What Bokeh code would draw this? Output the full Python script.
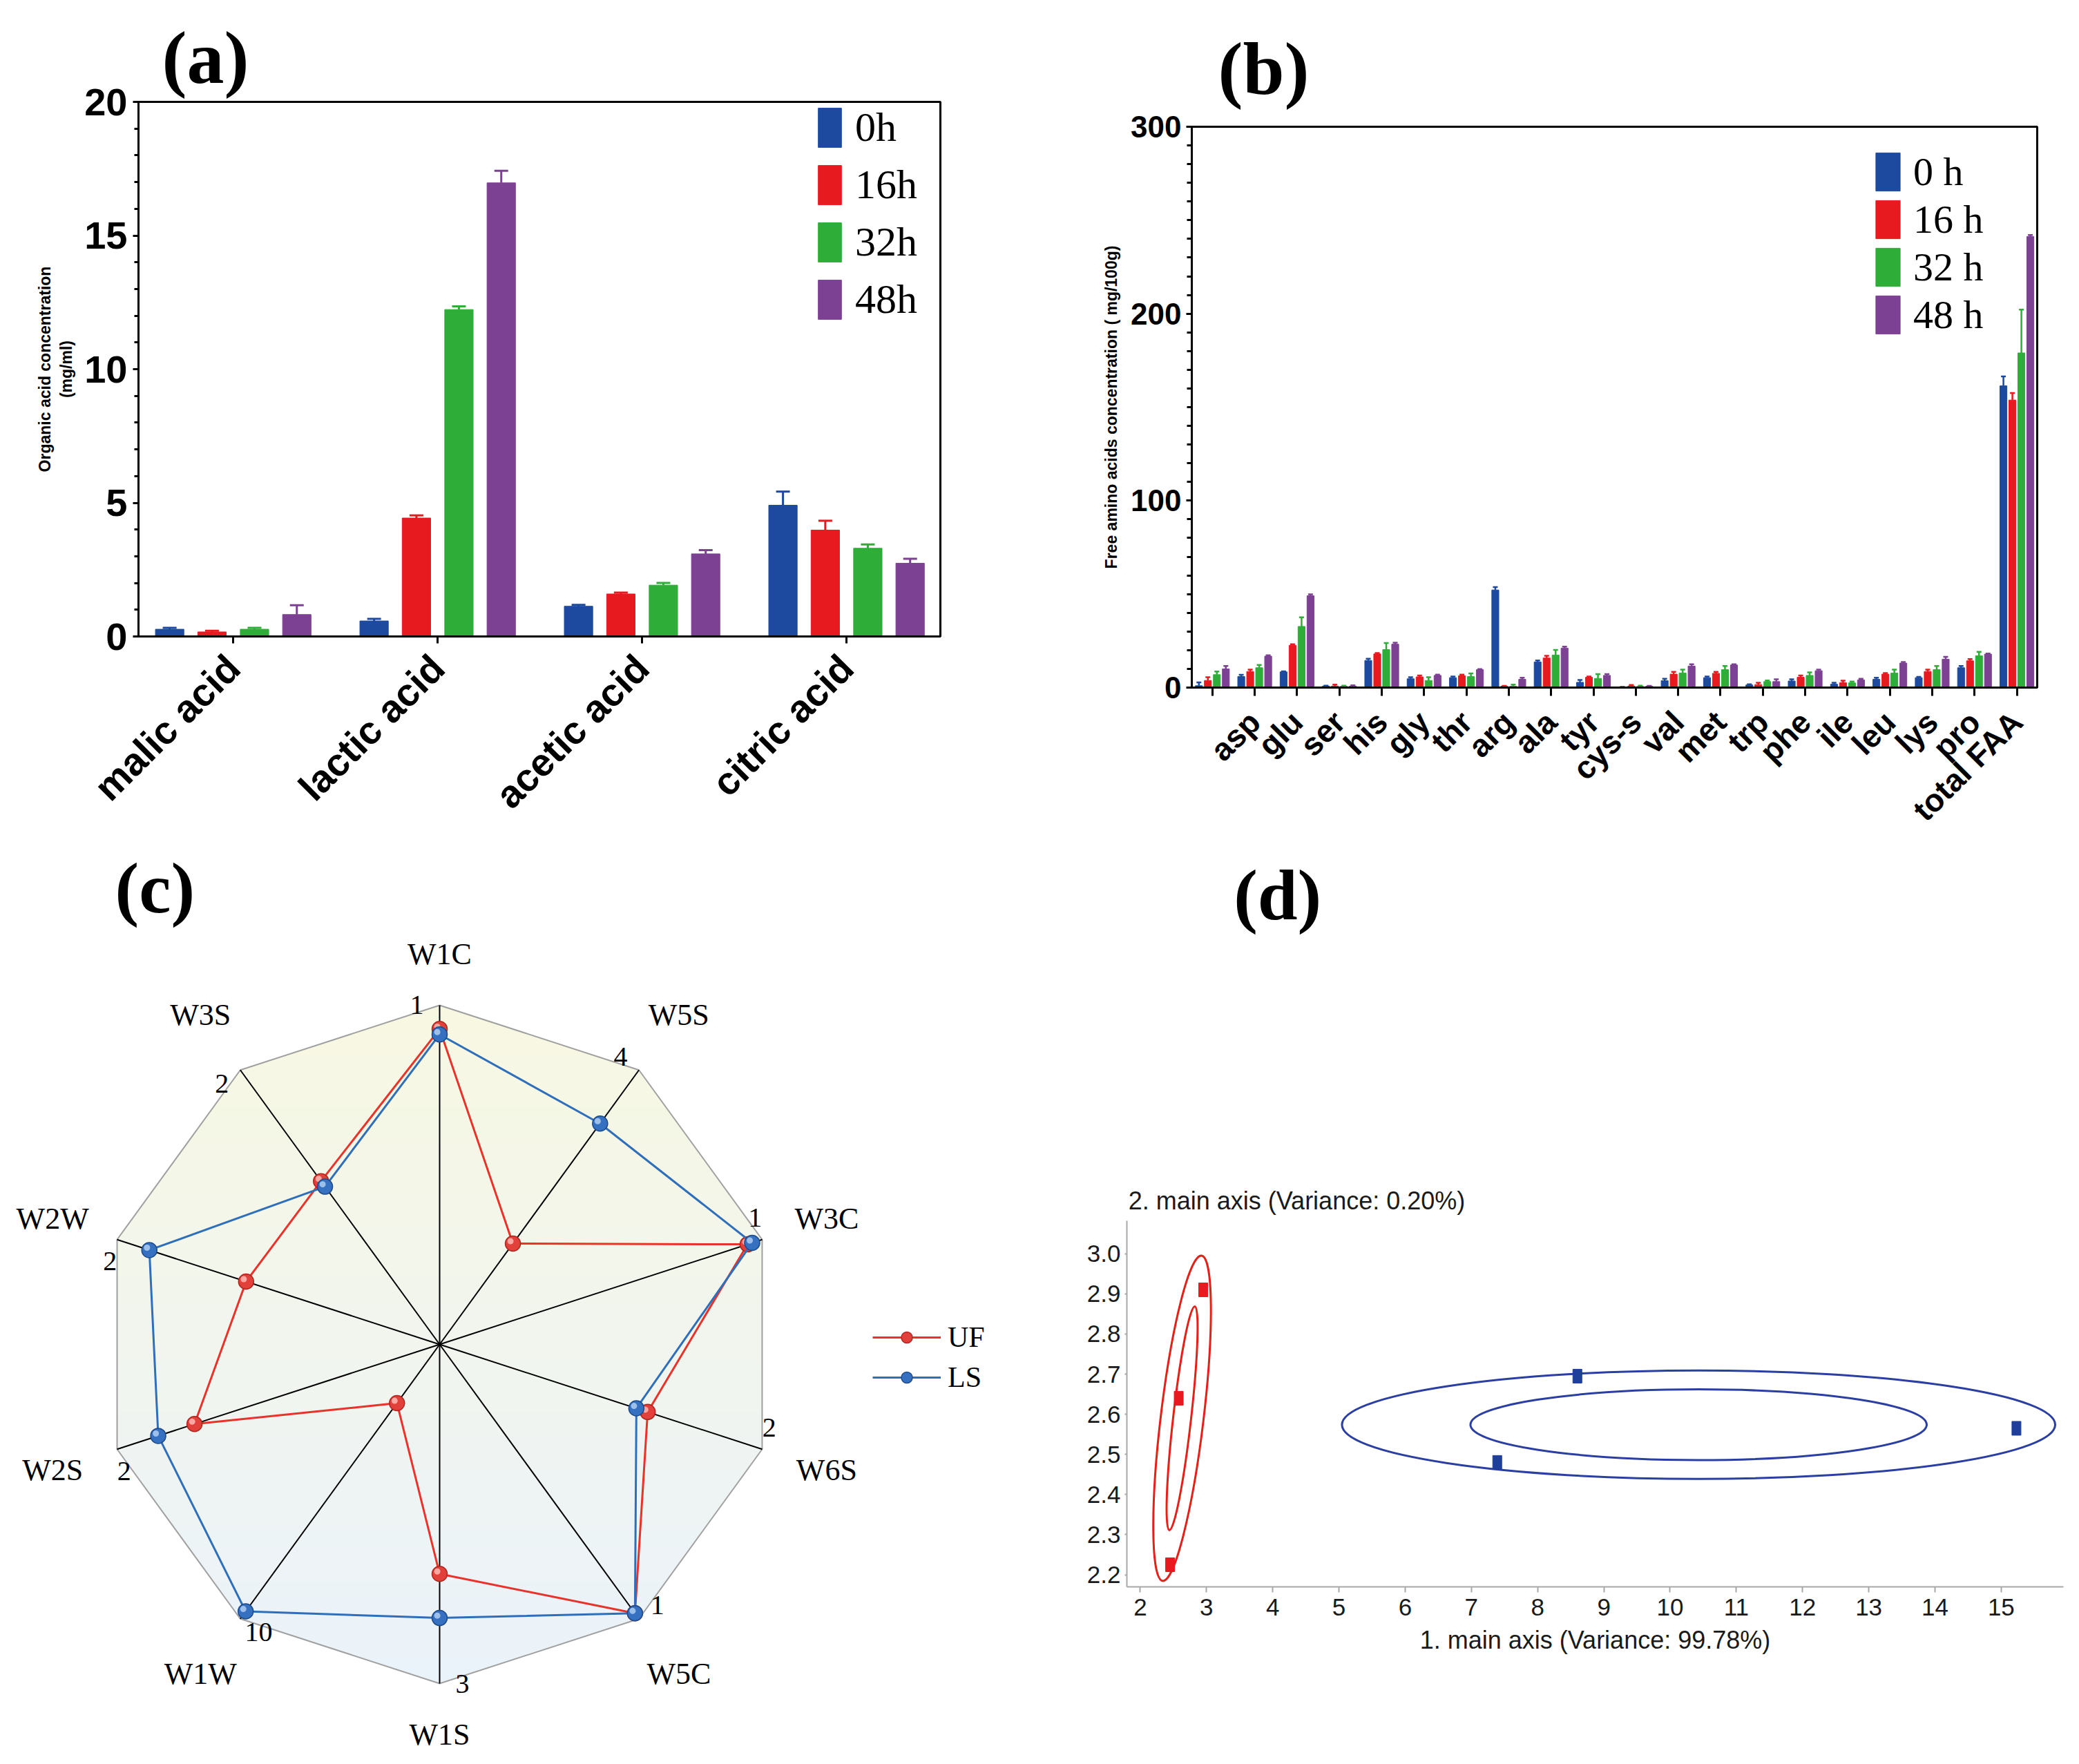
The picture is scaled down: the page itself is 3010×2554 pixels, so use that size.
import numpy as np
from bokeh.plotting import figure
from bokeh.models import (Range1d, FixedTicker, Legend, LegendItem, Whisker, TeeHead,
                          ColumnDataSource, Label, Title, NumeralTickFormatter)
from bokeh.layouts import column, row
from bokeh.embed import file_html
from bokeh.resources import INLINE
from bokeh.core.properties import value

SANS = "Liberation Sans"
SERIF = "Liberation Serif"
COLORS = ["#1d4a9e", "#e71a20", "#2eae38", "#7c4193"]

# ---------------- panel (a) data ----------------
acids = ["malic acid", "lactic acid", "acetic acid", "citric acid"]
a_times = ["0h", "16h", "32h", "48h"]
a_0h = [0.27, 0.58, 1.13, 4.91]
a_0h_err = [0.05, 0.08, 0.05, 0.51]
a_16h = [0.17, 4.43, 1.59, 3.98]
a_16h_err = [0.04, 0.10, 0.05, 0.35]
a_32h = [0.27, 12.23, 1.92, 3.30]
a_32h_err = [0.05, 0.12, 0.08, 0.14]
a_48h = [0.82, 16.97, 3.09, 2.74]
a_48h_err = [0.35, 0.45, 0.14, 0.17]

# ---------------- panel (b) data ----------------
amino = ["", "asp", "glu", "ser", "his", "gly", "thr", "arg", "ala", "tyr", "cys-s",
         "val", "met", "trp", "phe", "ile", "leu", "lys", "pro", "total FAA"]
b_times = ["0 h", "16 h", "32 h", "48 h"]
b_0h = [1.0, 5.9, 8.4, 0.8, 14.5, 4.7, 5.3, 52.2, 13.7, 2.8, 0.3, 3.7, 5.3, 1.4, 3.5, 1.8, 4.4, 5.3, 10.6, 161.4]
b_0h_err = [1.8, 0.9, 0.3, 0.2, 0.9, 0.8, 0.6, 1.6, 0.8, 1.3, 0.1, 1.0, 0.6, 0.4, 0.9, 0.8, 0.9, 0.4, 0.9, 5.0]
b_16h = [3.8, 8.6, 22.6, 0.8, 18.0, 5.7, 6.3, 0.7, 15.8, 5.5, 0.8, 7.2, 7.6, 1.6, 5.5, 2.6, 7.2, 8.6, 14.3, 153.8]
b_16h_err = [1.7, 1.0, 0.6, 0.8, 0.5, 0.8, 0.6, 0.2, 1.2, 0.4, 0.6, 1.2, 0.8, 1.0, 1.0, 1.1, 0.6, 1.0, 0.9, 3.8]
b_32h = [6.9, 10.6, 32.7, 0.7, 20.3, 3.8, 5.9, 0.7, 17.4, 4.9, 0.6, 7.8, 9.6, 3.2, 6.5, 2.5, 7.8, 9.6, 17.0, 179.0]
b_32h_err = [1.7, 1.5, 4.9, 0.3, 3.5, 1.7, 1.7, 0.9, 2.7, 2.3, 0.4, 1.8, 1.9, 0.6, 1.6, 0.7, 1.8, 1.9, 2.1, 23.2]
b_48h = [10.0, 16.8, 49.1, 0.8, 23.2, 6.5, 9.6, 4.4, 21.1, 6.5, 0.7, 11.5, 12.1, 3.2, 9.0, 4.1, 13.1, 15.2, 17.9, 241.3]
b_48h_err = [1.5, 0.5, 0.8, 0.4, 0.8, 0.4, 0.3, 0.9, 0.8, 0.7, 0.2, 1.0, 0.4, 1.2, 0.6, 0.6, 0.6, 1.2, 0.3, 0.8]

# ---------------- panel (c) data ----------------
sensors = ["W1C", "W5S", "W3C", "W6S", "W5C", "W1S", "W1W", "W2S", "W2W", "W3S"]
sensor_max = [1, 4, 1, 2, 1, 3, 10, 2, 2, 2]
uf_vals = [0.93, 1.47, 0.955, 1.29, 0.98, 2.03, 2.14, 1.52, 1.20, 1.19]
ls_vals = [0.914, 3.22, 0.969, 1.22, 0.98, 2.42, 9.73, 1.745, 1.80, 1.15]

# ---------------- panel (d) data ----------------
red_x = [2.95, 2.58, 2.45]
red_y = [2.91, 2.64, 2.225]
blue_x = [8.60, 7.39, 15.23]
blue_y = [2.695, 2.48, 2.565]
ell_x = [2.631, 2.631, 10.43, 10.43]
ell_y = [2.59, 2.59, 2.574, 2.574]
ell_w = [0.647, 0.271, 10.77, 6.89]
ell_h = [0.816, 0.561, 0.27, 0.176]
ell_angle = [-0.119, -0.113, 0.0, 0.0]
ell_color = ["#e32119", "#e32119", "#2b3fa3", "#2b3fa3"]


def add_bars(p, centers, series, errs, offsets, width, head, lw):
    rends = []
    for k, (vals, ek) in enumerate(zip(series, errs)):
        x = np.asarray(centers, float) + offsets[k]
        top = np.asarray(vals, float)
        src = ColumnDataSource(dict(x=x, top=top, upper=top + np.asarray(ek, float)))
        r = p.vbar(x="x", top="top", width=width, source=src,
                   fill_color=COLORS[k], line_color=COLORS[k], line_width=1)
        w = Whisker(source=src, base="x", lower="top", upper="upper",
                    line_color=COLORS[k], line_width=lw, lower_head=None,
                    upper_head=TeeHead(size=head, line_color=COLORS[k], line_width=lw))
        p.add_layout(w)
        rends.append(r)
    return rends


def style_frame(p):
    p.grid.visible = False
    p.outline_line_color = "black"
    p.outline_line_width = 3
    p.outline_line_alpha = 1.0
    for ax in (p.xaxis, p.yaxis):
        ax.axis_line_width = 3
        ax.major_tick_line_width = 3
        ax.minor_tick_line_width = 3
        ax.major_tick_in = 0
        ax.minor_tick_in = 0
        ax.major_label_text_font = SANS
        ax.major_label_text_font_style = "bold"
        ax.major_label_text_color = "black"
        ax.axis_label_text_font = SANS
        ax.axis_label_text_font_style = "bold"
        ax.axis_label_text_color = "black"


def panel_title(text, offset, standoff):
    return Title(text=text, align="left", offset=offset, standoff=standoff, vertical_align="bottom",
                 text_font=SERIF, text_font_size="108px", text_font_style="bold", text_color="black")


def bar_legend(items, loc, gw, gh, spacing, fs, standoff):
    return Legend(items=items, location=loc, glyph_width=gw, glyph_height=gh, spacing=spacing,
                  label_text_font=SERIF, label_text_font_size=fs, label_text_color="black",
                  label_standoff=standoff, padding=8, margin=0,
                  background_fill_alpha=0, border_line_alpha=0)


# ================= panel (a) =================
pa = figure(width=1495, height=1220, x_range=Range1d(-0.4635, 3.459), y_range=Range1d(0, 20),
            output_backend="svg", toolbar_location=None, title=None, frame_align=False,
            min_border_left=200, min_border_right=134, min_border_top=147, min_border_bottom=299)
style_frame(pa)
ra = add_bars(pa, np.arange(len(acids)), [a_0h, a_16h, a_32h, a_48h],
              [a_0h_err, a_16h_err, a_32h_err, a_48h_err],
              [-0.311, -0.104, 0.104, 0.311], 0.139, 20, 3)
pa.xaxis.ticker = FixedTicker(ticks=list(range(len(acids))))
pa.xaxis.major_label_overrides = {i: s for i, s in enumerate(acids)}
pa.xaxis.major_label_orientation = np.pi / 4
pa.xaxis.major_label_text_font_size = "56px"
pa.xaxis.major_tick_out = 10
pa.xaxis.major_label_standoff = 26
pa.yaxis.ticker = FixedTicker(ticks=[0, 5, 10, 15, 20], minor_ticks=list(range(0, 21)))
pa.yaxis.major_label_text_font_size = "56px"
pa.yaxis.major_tick_out = 8
pa.yaxis.minor_tick_out = 6
pa.yaxis.major_label_standoff = 8
pa.yaxis.axis_label = "Organic acid concentration\n(mg/ml)"
pa.yaxis.axis_label_text_font_size = "23px"
pa.yaxis.axis_label_standoff = 10
pa.add_layout(bar_legend([LegendItem(label=t, renderers=[r]) for t, r in zip(a_times, ra)],
                         (972, 444), 42, 71, 12, "60px", 16))
pa.add_layout(panel_title("(a)", 34, 10), "above")

# ================= panel (b) =================
pb = figure(width=1495, height=1220, x_range=Range1d(0.514, 20.48), y_range=Range1d(0, 300),
            output_backend="svg", toolbar_location=None, title=None, frame_align=False,
            min_border_left=230, min_border_right=41, min_border_top=183, min_border_bottom=224)
style_frame(pb)
rb = add_bars(pb, np.arange(1, len(amino) + 1), [b_0h, b_16h, b_32h, b_48h],
              [b_0h_err, b_16h_err, b_32h_err, b_48h_err],
              [-0.318, -0.106, 0.106, 0.318], 0.165, 7, 2.5)
pb.xaxis.ticker = FixedTicker(ticks=list(range(1, len(amino) + 1)))
pb.xaxis.major_label_overrides = {i + 1: s for i, s in enumerate(amino)}
pb.xaxis.major_label_orientation = np.pi / 4
pb.xaxis.major_label_text_font_size = "46px"
pb.xaxis.major_tick_out = 12
pb.xaxis.major_label_standoff = 30
pb.yaxis.ticker = FixedTicker(ticks=[0, 100, 200, 300], minor_ticks=list(range(0, 301, 10)))
pb.yaxis.major_label_text_font_size = "44px"
pb.yaxis.major_tick_out = 8
pb.yaxis.minor_tick_out = 7
pb.yaxis.major_label_standoff = 7
pb.yaxis.axis_label = "Free amino acids concentration ( mg/100g)"
pb.yaxis.axis_label_text_font_size = "23px"
pb.yaxis.axis_label_standoff = 12
pb.add_layout(bar_legend([LegendItem(label=t, renderers=[r]) for t, r in zip(b_times, rb)],
                         (978, 497), 44, 69, 0, "58px", 15))
pb.add_layout(panel_title("(b)", 38, 50), "above")

# ================= panel (c) radar =================
pc = figure(width=1495, height=1318, x_range=Range1d(-1.2953, 1.7495), y_range=Range1d(-1.2057, 1.4786),
            output_backend="svg", toolbar_location=None, title=None, frame_align=False, min_border=0,
            x_axis_type=None, y_axis_type=None)
pc.grid.visible = False
pc.outline_line_color = None

n = len(sensors)
ang = np.deg2rad(90 - 36 * np.arange(n))
ca, sa = np.cos(ang), np.sin(ang)

# gradient background (bands) masked to the decagon
nb = 80
edges = np.linspace(-1.0, 1.0, nb + 1)
top_rgb = np.array([248, 248, 226])
bot_rgb = np.array([235, 243, 251])
band_cols = []
for i in range(nb):
    t = (edges[i] + edges[i + 1]) / 4 + 0.5
    c = (bot_rgb + (top_rgb - bot_rgb) * t).astype(int)
    band_cols.append("#%02x%02x%02x" % tuple(c))
pc.quad(left=-1, right=1, bottom=edges[:-1], top=edges[1:] + 0.01, fill_color=band_cols, line_color=None)
ox = [-1.5, 1.9, 1.9, -1.5]
oy = [-1.4, -1.4, 1.6, 1.6]
pc.multi_polygons(xs=[[[ox, list(ca)]]], ys=[[[oy, list(sa)]]], fill_color="white", line_color=None)
pc.line(np.append(ca, ca[0]), np.append(sa, sa[0]), line_color="#a0a0a0", line_width=2)
pc.segment(x0=np.zeros(n), y0=np.zeros(n), x1=ca, y1=sa, line_color="black", line_width=2)

uf_r = np.asarray(uf_vals) / np.asarray(sensor_max)
ls_r = np.asarray(ls_vals) / np.asarray(sensor_max)
uf_x, uf_y = uf_r * ca, uf_r * sa
ls_x, ls_y = ls_r * ca, ls_r * sa
hl = 0.007  # highlight shift for the glossy sphere look
uf_line = pc.line(np.append(uf_x, uf_x[0]), np.append(uf_y, uf_y[0]), line_color="#e8332a", line_width=3)
uf_pts = pc.scatter(uf_x, uf_y, size=22, fill_color="#e2403a", line_color="#b0261f", line_width=1.5)
pc.scatter(uf_x - hl, uf_y + hl, size=9, fill_color="#ffb3ad", line_color=None, fill_alpha=0.9)
ls_line = pc.line(np.append(ls_x, ls_x[0]), np.append(ls_y, ls_y[0]), line_color="#2f6fba", line_width=3)
ls_pts = pc.scatter(ls_x, ls_y, size=22, fill_color="#3670c0", line_color="#1d4b8c", line_width=1.5)
pc.scatter(ls_x - hl, ls_y + hl, size=9, fill_color="#a9c9f0", line_color=None, fill_alpha=0.9)

lab_r = np.where(np.abs(sa) > 0.99, 1.15, 1.2)
pc.text(x=lab_r * ca, y=lab_r * sa, text=sensors, text_font=value(SERIF), text_font_size=value("44px"),
        text_align="center", text_baseline="middle", text_color="black")
d = 0.067
pc.text(x=ca - d * sa, y=sa + d * ca, text=[str(m) for m in sensor_max], text_font=value(SERIF),
        text_font_size=value("40px"), text_align="center", text_baseline="middle", text_color="black")
leg_c = Legend(items=[LegendItem(label="UF", renderers=[uf_line, uf_pts]),
                      LegendItem(label="LS", renderers=[ls_line, ls_pts])],
               location=(1255, 512), glyph_width=99, glyph_height=40, spacing=10,
               label_text_font=SERIF, label_text_font_size="42px", label_text_color="black",
               label_standoff=10, padding=8, margin=0, background_fill_alpha=0, border_line_alpha=0)
pc.add_layout(leg_c)
pc.add_layout(Label(x=-0.957, y=1.23, text="(c)", text_font=SERIF, text_font_size="104px",
                    text_font_style="bold", text_baseline="bottom", text_color="black"))

# ================= panel (d) PCA =================
# frame reaches the top of the figure; the y axis is bounded to the data region
pd_ = figure(width=1495, height=1318, x_range=Range1d(1.797, 15.94), y_range=Range1d(2.170, 4.0235),
             output_backend="svg", toolbar_location=None, title=None, frame_align=False,
             min_border_left=136, min_border_right=3, min_border_top=0, min_border_bottom=241)
pd_.grid.visible = False
pd_.outline_line_color = None
for ax in (pd_.xaxis, pd_.yaxis):
    ax.axis_line_color = "#a8a8a8"
    ax.axis_line_width = 2
    ax.major_tick_line_color = "#a8a8a8"
    ax.major_tick_line_width = 2
    ax.major_tick_in = 0
    ax.minor_tick_line_color = None
    ax.major_label_text_font = SANS
    ax.major_label_text_font_size = "35px"
    ax.major_label_text_color = "#1a1a1a"
    ax.axis_label_text_font = SANS
    ax.axis_label_text_font_style = "normal"
    ax.axis_label_text_font_size = "36px"
    ax.axis_label_text_color = "#1a1a1a"
pd_.xaxis.ticker = FixedTicker(ticks=list(range(2, 16)))
pd_.xaxis.major_tick_out = 8
pd_.xaxis.major_label_standoff = 9
pd_.xaxis.axis_label = "1. main axis (Variance: 99.78%)"
pd_.xaxis.axis_label_standoff = 12
pd_.yaxis.ticker = FixedTicker(ticks=[2.2, 2.3, 2.4, 2.5, 2.6, 2.7, 2.8, 2.9, 3.0])
pd_.yaxis.formatter = NumeralTickFormatter(format="0.0")
pd_.yaxis.bounds = (2.170, 3.082)
pd_.yaxis.major_tick_out = 3
pd_.yaxis.major_label_standoff = 6
pd_.ellipse(x=ell_x, y=ell_y, width=ell_w, height=ell_h, angle=ell_angle,
            fill_color=None, line_color=ell_color, line_width=3)
pd_.rect(x=red_x, y=red_y, width=13, height=20, width_units="screen", height_units="screen",
         fill_color="#e8191f", line_color="#e8191f")
pd_.rect(x=blue_x, y=blue_y, width=13, height=20, width_units="screen", height_units="screen",
         fill_color="#1f3f9a", line_color="#1f3f9a")
pd_.add_layout(Label(x=1.82, y=3.096, text="2. main axis (Variance: 0.20%)", text_font=SANS,
                     text_font_size="36px", text_color="#1a1a1a", text_baseline="bottom"))
pd_.add_layout(Label(x=3.41, y=3.796, text="(d)", text_font=SERIF, text_font_size="104px",
                     text_font_style="bold", text_baseline="bottom", text_color="black"))

layout = column(row(pa, pb), row(pc, pd_))
open("out.html", "w").write(file_html(layout, INLINE))
